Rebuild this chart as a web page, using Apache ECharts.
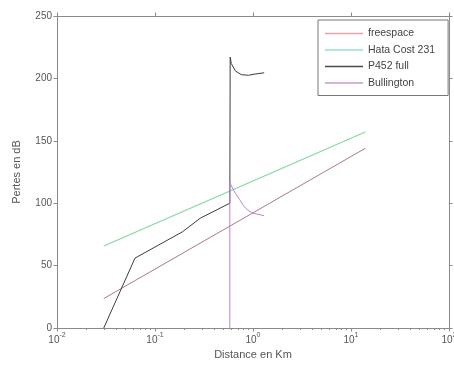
<!DOCTYPE html>
<html>
<head>
<meta charset="utf-8">
<script src="https://cdn.jsdelivr.net/npm/echarts@6/dist/echarts.min.js"></script>
<style>html,body{margin:0;padding:0;background:#fff}#c{width:454px;height:365px}</style>
</head>
<body>
<div id="c"></div>
<script>
// ---- data ----
const seriesNames = ['freespace', 'Hata Cost 231', 'P452 full', 'Bullington'];
const freeX = [0.03, 14];
const freeY = [23.6, 144];
const hataX = [0.03, 14];
const hataY = [65.7, 157];
const p452X = [0.03, 0.0625, 0.19, 0.29, 0.58, 0.585, 0.6, 0.66, 0.76, 0.9, 1.05, 1.3];
const p452Y = [0, 56, 77, 88, 100, 217, 212, 206, 203, 202.5, 203.5, 204.5];
const bullX = [0.58, 0.58, 0.6, 0.66, 0.73, 0.8, 0.88, 1.0, 1.3];
const bullY = [0, 117, 114, 108, 103, 98, 94.5, 92, 90];
const xMajorTicks = [0.01, 0.1, 1, 10, 100];
const yTicks = [0, 50, 100, 150, 200, 250];

// minor log ticks (2..9 of each decade)
const xMinorTicks = [];
for (let d = 0; d < xMajorTicks.length - 1; d++) {
  for (let m = 2; m <= 9; m++) xMinorTicks.push(+(xMajorTicks[d] * m).toPrecision(3));
}
const pairs = (xs, ys) => xs.map((x, i) => [x, ys[i]]);

const axisCol = '#8a8a8a';
const txtCol = '#555';
const MAJ = 3.5, MIN = 2;
const X_MIN = 0.01, X_MAX = 100, Y_MIN = 0, Y_MAX = 250;
const lineOn = {show: true, onZero: false, lineStyle: {color: axisCol, width: 1}};
const ticks = (vals, len) => ({show: true, inside: false, length: len, lineStyle: {color: axisCol, width: 1}, customValues: vals});

const chart = echarts.init(document.getElementById('c'), null, {renderer: 'canvas'});
chart.setOption({
  animation: false,
  backgroundColor: '#fff',
  grid: {left: 57, right: 5, top: 16, bottom: 37, containLabel: false, outerBoundsMode: 'none'},
  legend: {
    orient: 'vertical', left: 318, top: 20, z: 30,
    padding: [8, 13, 7, 7], itemGap: 5.5, itemWidth: 38, itemHeight: 1.5,
    borderColor: '#777', borderWidth: 1, backgroundColor: '#fff',
    icon: 'rect',
    textStyle: {fontSize: 10.5, color: '#444', fontFamily: 'Liberation Sans', lineHeight: 11},
    data: [
      {name: seriesNames[0], itemStyle: {color: '#e6a3ab'}},
      {name: seriesNames[1], itemStyle: {color: '#96e0c4'}},
      {name: seriesNames[2], itemStyle: {color: '#4a4a4a'}},
      {name: seriesNames[3], itemStyle: {color: '#c898c8'}}
    ]
  },
  xAxis: [
    {type: 'log', logBase: 10, min: X_MIN, max: X_MAX, position: 'bottom',
      name: 'Distance en Km', nameLocation: 'middle', nameGap: 13,
      nameTextStyle: {fontSize: 11, color: txtCol, fontFamily: 'Liberation Sans'},
      axisLine: lineOn, axisTick: ticks(xMajorTicks, MAJ), splitLine: {show: false}, minorTick: {show: false},
      axisLabel: {show: true, margin: 4, showMaxLabel: true, showMinLabel: true, customValues: xMajorTicks,
        formatter: v => '{b|10}{e|' + Math.round(Math.log10(v)) + '}',
        rich: {b: {fontSize: 10, color: txtCol, fontFamily: 'Liberation Sans', lineHeight: 13, verticalAlign: 'bottom'},
               e: {fontSize: 7, color: txtCol, fontFamily: 'Liberation Sans', lineHeight: 13, verticalAlign: 'top'}}}},
    {type: 'log', logBase: 10, min: X_MIN, max: X_MAX, position: 'bottom',
      axisLine: lineOn, axisTick: ticks(xMinorTicks, MIN),
      axisLabel: {show: false}, splitLine: {show: false}, minorTick: {show: false}},
    {type: 'log', logBase: 10, min: X_MIN, max: X_MAX, position: 'top',
      axisLine: lineOn, axisTick: ticks(xMajorTicks, MAJ),
      axisLabel: {show: false}, splitLine: {show: false}, minorTick: {show: false}}
  ],
  yAxis: [
    {type: 'value', min: Y_MIN, max: Y_MAX, interval: 50, position: 'left',
      name: 'Pertes en dB', nameLocation: 'middle', nameGap: 35, nameRotate: 90,
      nameTextStyle: {fontSize: 11, color: txtCol, fontFamily: 'Liberation Sans'},
      axisLine: lineOn, axisTick: ticks(yTicks, MAJ), splitLine: {show: false},
      axisLabel: {show: true, fontSize: 10, color: txtCol, margin: 5, fontFamily: 'Liberation Sans', customValues: yTicks}},
    {type: 'value', min: Y_MIN, max: Y_MAX, interval: 50, position: 'right',
      axisLine: lineOn, axisTick: ticks(yTicks, MAJ), axisLabel: {show: false}, splitLine: {show: false}}
  ],
  series: [
    {name: seriesNames[0], type: 'line', data: pairs(freeX, freeY), showSymbol: false, symbol: 'none',
      lineStyle: {color: '#a87896', width: 1}, itemStyle: {color: '#a87896'}},
    {name: seriesNames[1], type: 'line', data: pairs(hataX, hataY), showSymbol: false, symbol: 'none',
      lineStyle: {color: '#84d8a4', width: 1.2}, itemStyle: {color: '#84d8a4'}},
    {name: seriesNames[2], type: 'line', data: pairs(p452X, p452Y), showSymbol: false, symbol: 'none', smooth: false,
      lineStyle: {color: '#3c3c3c', width: 1}, itemStyle: {color: '#3c3c3c'}},
    {name: seriesNames[3], type: 'line', data: pairs(bullX, bullY), showSymbol: false, symbol: 'none',
      lineStyle: {color: '#b884cc', width: 1}, itemStyle: {color: '#b884cc'}}
  ]
});
</script>
</body>
</html>
